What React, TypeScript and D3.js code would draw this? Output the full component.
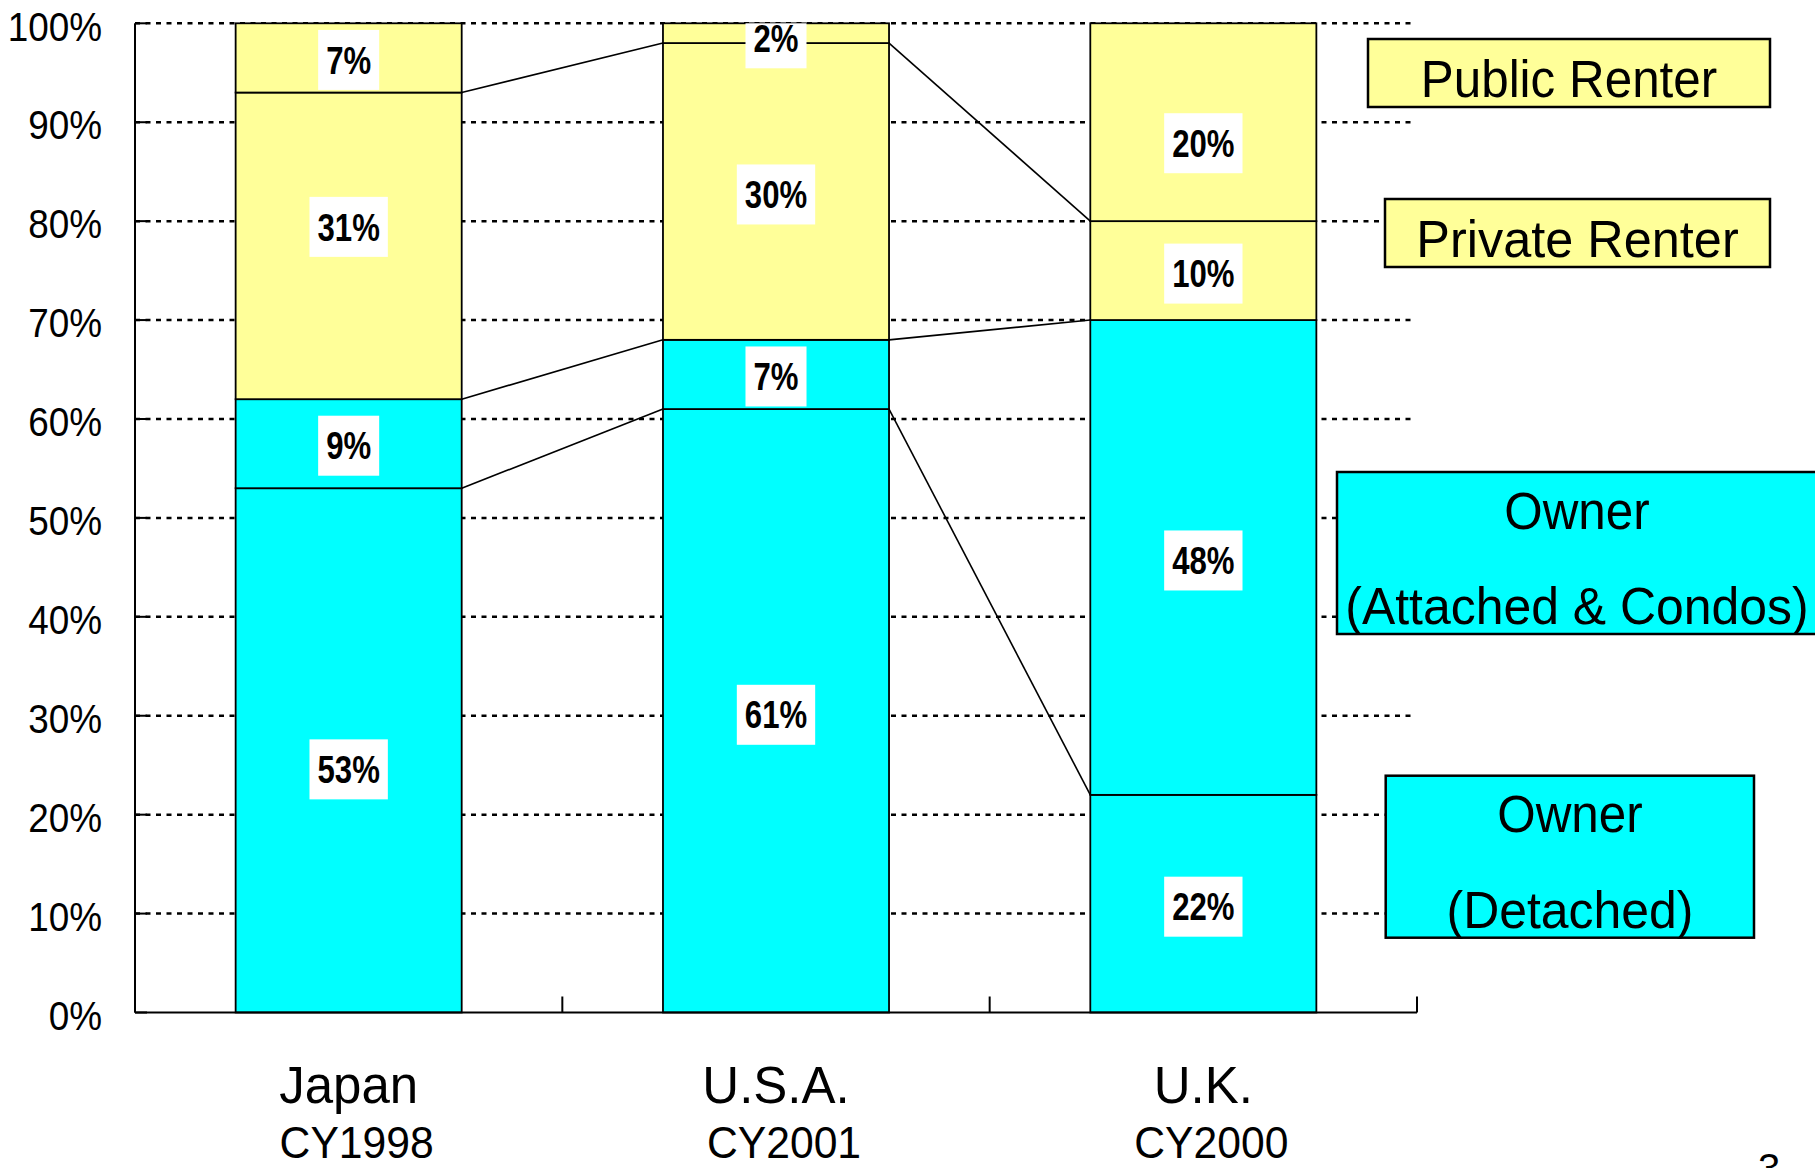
import React from "react";
import * as d3 from "d3";

const countries = ["Japan", "U.S.A.", "U.K."];
const years = ["CY1998", "CY2001", "CY2000"];
const ownerDetached = [53, 61, 22];
const ownerAttached = [9, 7, 48];
const privateRenter = [31, 30, 10];
const publicRenter = [7, 2, 20];
const seriesKeys = ["ownerDetached", "ownerAttached", "privateRenter", "publicRenter"];
const seriesColors = ["#00FFFF", "#00FFFF", "#FFFF99", "#FFFF99"];
const yTicks = [0, 10, 20, 30, 40, 50, 60, 70, 80, 90, 100];

// manual label nudges (px) per series [k][country i], as placed in the original slide
const labelNudge = [
  [19, 4, 3],
  [2, 2, 3],
  [-19, 3, 3],
  [2, 0, 21],
];

const W = 1815;
const H = 1168;
const FONT = "'Liberation Sans', Arial, Helvetica, sans-serif";

const LBL_F = 38;
const LBL_SX = 0.82;

function labelWidth(t: string) {
  let w = 0;
  for (const ch of t) w += ch === "%" ? 0.889 : 0.556;
  return w * LBL_F * LBL_SX + 16;
}

export default function App() {
  const x = d3
    .scaleBand<string>()
    .domain(countries)
    .range([135, 1417])
    .paddingInner(0.471)
    .paddingOuter(0.2355);
  const y = d3.scaleLinear().domain([0, 100]).range([1012.5, 23.3]);
  const bw = x.bandwidth();

  const rows = countries.map((c, i) => ({
    country: c,
    ownerDetached: ownerDetached[i],
    ownerAttached: ownerAttached[i],
    privateRenter: privateRenter[i],
    publicRenter: publicRenter[i],
  }));
  const stacked = d3.stack<any>().keys(seriesKeys)(rows);

  const xLeft = x.range()[0];
  const xRight = x.range()[1];
  const top = y(100);
  const base = y(0);
  const bandEdges = [
    xLeft,
    ...countries.slice(1).map((c) => (x(c) as number) - (x.step() * x.paddingInner()) / 2),
    xRight,
  ];

  const connectors: { x1: number; y1: number; x2: number; y2: number }[] = [];
  for (let i = 0; i < countries.length - 1; i++) {
    for (let k = 0; k < seriesKeys.length - 1; k++) {
      connectors.push({
        x1: (x(countries[i]) as number) + bw,
        y1: y(stacked[k][i][1]),
        x2: x(countries[i + 1]) as number,
        y2: y(stacked[k][i + 1][1]),
      });
    }
  }

  return (
    <svg
      width={W}
      height={H}
      viewBox={`0 0 ${W} ${H}`}
      style={{ position: "absolute", left: 0, top: 0, background: "#fff" }}
      fontFamily={FONT}
    >
      <rect x={0} y={0} width={W} height={H} fill="#fff" />
      {/* gridlines */}
      {yTicks.filter((t) => t > 0).map((t) => (
        <line
          key={"g" + t}
          x1={xLeft}
          x2={1412}
          y1={y(t)}
          y2={y(t)}
          stroke="#000"
          strokeWidth={2.5}
          strokeDasharray="5,5.5"
        />
      ))}
      {/* y tick marks */}
      {yTicks.map((t) => (
        <line key={"yt" + t} x1={xLeft} x2={xLeft + 12} y1={y(t)} y2={y(t)} stroke="#000" strokeWidth={2} />
      ))}
      {/* connectors */}
      {connectors.map((c, i) => (
        <line key={"c" + i} x1={c.x1} y1={c.y1} x2={c.x2} y2={c.y2} stroke="#000" strokeWidth={1.6} />
      ))}
      {/* bars */}
      {stacked.map((s, k) =>
        s.map((d, i) => (
          <rect
            key={"b" + k + "-" + i}
            x={x(countries[i])}
            y={y(d[1])}
            width={bw}
            height={y(d[0]) - y(d[1])}
            fill={seriesColors[k]}
            stroke="#000"
            strokeWidth={1.8}
          />
        ))
      )}
      {/* data labels */}
      {stacked.map((s, k) =>
        s.map((d, i) => {
          const v = d[1] - d[0];
          const txt = `${v}%`;
          const cx = (x(countries[i]) as number) + bw / 2;
          const cy = Math.max(y((d[0] + d[1]) / 2), top + 15) + labelNudge[k][i];
          const w = labelWidth(txt);
          const bTop = Math.max(cy - 30, top);
          return (
            <g key={"l" + k + "-" + i}>
              <rect x={cx - w / 2} y={bTop} width={w} height={cy + 30 - bTop} fill="#fff" />
              <text
                transform={`translate(${cx},${cy}) scale(${LBL_SX},1)`}
                textAnchor="middle"
                dy="0.36em"
                fontSize={LBL_F}
                fontWeight="bold"
                fill="#000"
              >
                {txt}
              </text>
            </g>
          );
        })
      )}
      {/* axes */}
      <line x1={xLeft} x2={xLeft} y1={top} y2={base} stroke="#000" strokeWidth={2} />
      <line x1={xLeft} x2={xRight} y1={base} y2={base} stroke="#000" strokeWidth={2} />
      {bandEdges.map((bx, i) => (
        <line key={"xt" + i} x1={bx} x2={bx} y1={base} y2={base - 16} stroke="#000" strokeWidth={2} />
      ))}
      {/* y tick labels */}
      {yTicks.map((t) => (
        <text
          key={"yl" + t}
          transform={`translate(102,${y(t) + 2.5}) scale(0.9,1)`}
          textAnchor="end"
          dy="0.36em"
          fontSize={41}
          fill="#000"
        >
          {`${t}%`}
        </text>
      ))}
      {/* category labels */}
      {countries.map((c, i) => {
        const cx = (x(c) as number) + bw / 2;
        return (
          <g key={"cat" + c}>
            <text x={cx} y={1103} textAnchor="middle" fontSize={51} fill="#000">
              {c}
            </text>
            <text transform={`translate(${cx + 8},1158) scale(0.97,1)`} textAnchor="middle" fontSize={44} fill="#000">
              {years[i]}
            </text>
          </g>
        );
      })}
      {/* legend boxes */}
      <g fontSize={52} fill="#000">
        <rect x={1368} y={39} width={402} height={68} fill="#FFFF99" stroke="#000" strokeWidth={2.5} />
        <text transform="translate(1569,96.5) scale(0.95,1)" textAnchor="middle">Public Renter</text>
        <rect x={1385} y={199} width={385} height={68} fill="#FFFF99" stroke="#000" strokeWidth={2.5} />
        <text transform="translate(1577.5,256.5) scale(0.97,1)" textAnchor="middle">Private Renter</text>
        <rect x={1337} y={472} width={500} height={162} fill="#00FFFF" stroke="#000" strokeWidth={2.5} />
        <text transform="translate(1577,529) scale(0.95,1)" textAnchor="middle">Owner</text>
        <text transform="translate(1577,624) scale(0.96,1)" textAnchor="middle">(Attached &amp; Condos)</text>
        <rect x={1385.7} y={775.7} width={368.3} height={162} fill="#00FFFF" stroke="#000" strokeWidth={2.5} />
        <text transform="translate(1570,831.7) scale(0.95,1)" textAnchor="middle">Owner</text>
        <text transform="translate(1570,928) scale(0.96,1)" textAnchor="middle">(Detached)</text>
      </g>
      <text x={1769} y={1182} textAnchor="middle" fontSize={40} fill="#000">3</text>
    </svg>
  );
}
